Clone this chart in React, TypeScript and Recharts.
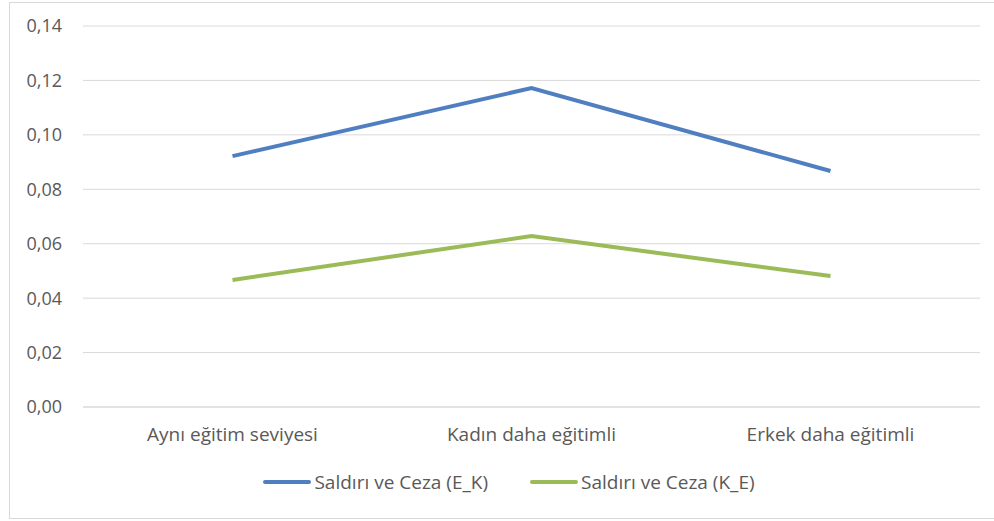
import { LineChart, Line, XAxis, YAxis, CartesianGrid, Legend } from "recharts"

// Değerler
const categories = ["Aynı eğitim seviyesi", "Kadın daha eğitimli", "Erkek daha eğitimli"]
const saldiriEK = [0.0922, 0.1172, 0.0867]
const saldiriKE = [0.0467, 0.0628, 0.0481]
const yTicks = [0, 0.02, 0.04, 0.06, 0.08, 0.1, 0.12, 0.14]

const seriesNames = ["Saldırı ve Ceza (E_K)", "Saldırı ve Ceza (K_E)"]
const colors = ["#4F7FC0", "#9BBB59"]

const data = categories.map((name, i) => ({
  name,
  ek: saldiriEK[i],
  ke: saldiriKE[i],
}))

const font = "'Open Sans', Arial, sans-serif"

function LegendContent() {
  return (
    <div style={{ display: "flex", justifyContent: "center", alignItems: "center", gap: 42, height: 30, paddingLeft: 18 }}>
      {seriesNames.map((s, i) => (
        <div key={s} style={{ display: "flex", alignItems: "center" }}>
          <span style={{ display: "inline-block", width: 48, height: 4, borderRadius: 2, background: colors[i], marginRight: 3 }} />
          <span style={{ fontFamily: font, fontSize: 19, color: "#595959" }}>{s}</span>
        </div>
      ))}
    </div>
  )
}

export default function App() {
  return (
    <div style={{ position: "absolute", left: 0, top: 0, width: 994, height: 521, background: "#fff", overflow: "hidden" }}>
      <div style={{ position: "absolute", left: 9, top: 2, width: 1000, height: 515, border: "1px solid #d9d9d9" }} />
      <div style={{ position: "absolute", left: 0, top: 0 }}>
        <LineChart width={994} height={521} data={data} margin={{ top: 26, right: 14, left: 20, bottom: 24 }}>
          <CartesianGrid vertical={false} stroke="#d9d9d9" strokeWidth={1} />
          <XAxis
            dataKey="name"
            scale="band"
            height={60}
            axisLine={{ stroke: "#d9d9d9" }}
            tickLine={false}
            tickSize={0}
            tickMargin={21}
            tick={{ fill: "#595959", fontSize: 19, fontFamily: font }}
          />
          <YAxis
            width={63}
            domain={[0, 0.14]}
            ticks={yTicks}
            axisLine={false}
            tickLine={false}
            tickSize={0}
            tickMargin={21}
            tickFormatter={(v: number) => v.toFixed(2).replace(".", ",")}
            tick={{ fill: "#595959", fontSize: 18, fontFamily: font }}
          />
          <Legend verticalAlign="bottom" height={30} content={<LegendContent />} />
          <Line dataKey="ek" name={seriesNames[0]} stroke={colors[0]} strokeWidth={4} dot={false} isAnimationActive={false} />
          <Line dataKey="ke" name={seriesNames[1]} stroke={colors[1]} strokeWidth={4} dot={false} isAnimationActive={false} />
        </LineChart>
      </div>
    </div>
  )
}
